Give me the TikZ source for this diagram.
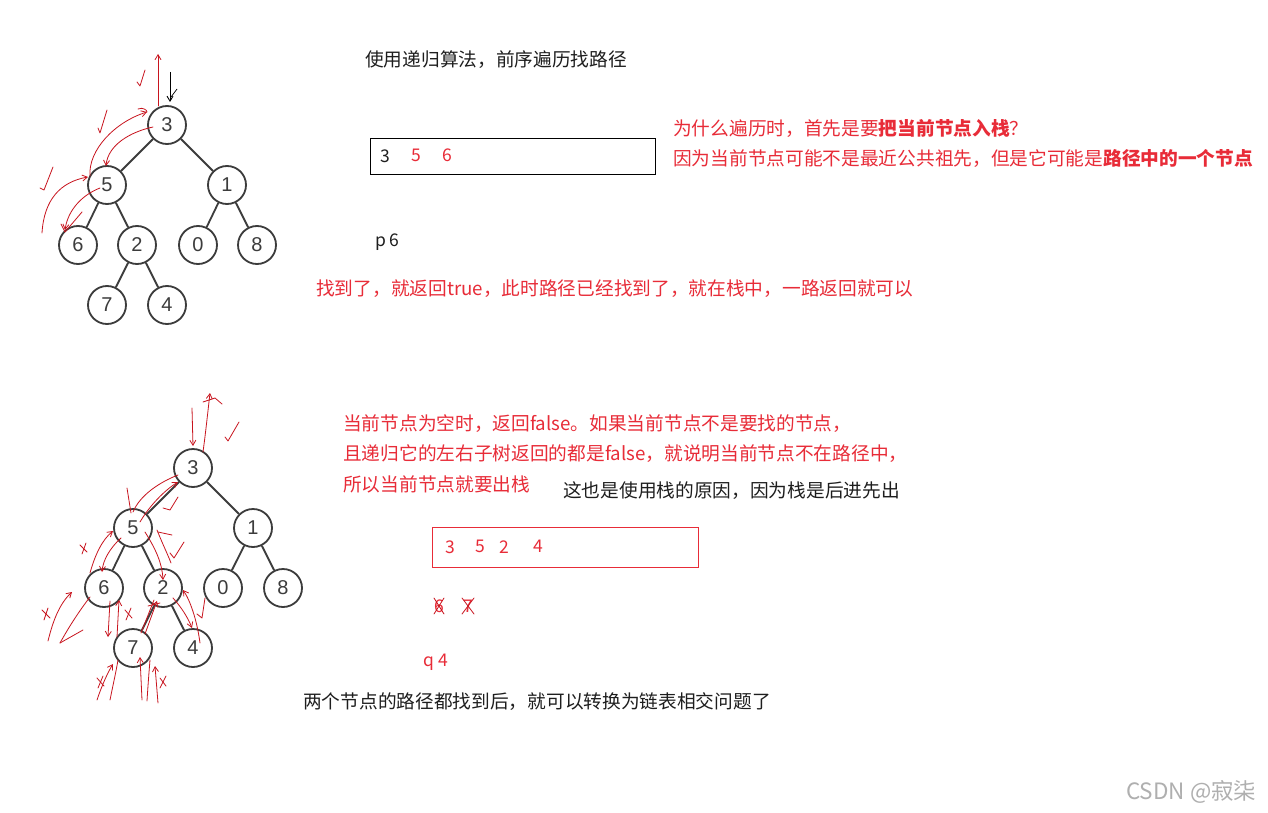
\documentclass[tikz,border=0pt]{standalone}
\usepackage{fontspec}
\setmainfont{Noto Sans CJK SC}
\newfontfamily\treefont{Liberation Sans}
\usetikzlibrary{arrows.meta}
\definecolor{redtxt}{RGB}{232,44,56}
\definecolor{darktxt}{RGB}{30,30,30}
\definecolor{treegray}{RGB}{60,60,60}
\definecolor{scribred}{RGB}{200,20,30}
\tikzset{
  tnode/.style={circle, draw=treegray, line width=1.8pt, minimum size=38pt, inner sep=0pt, font=\treefont\fontsize{20}{20}\selectfont, text=treegray, fill=white},
  tedge/.style={treegray, line width=1.8pt},
  scrib/.style={scribred, line width=0.8pt, line cap=round, line join=round},
  barb/.style={-{Straight Barb[length=5pt,width=6pt]}},
  cjk/.style={inner sep=0pt, anchor=west, font=\fontsize{18.7}{21}\selectfont},
  redline/.style={cjk, text=redtxt},
  blackline/.style={cjk, text=darktxt},
  digit/.style={inner sep=0pt, font=\fontsize{17.5}{17.5}\selectfont},
}
\begin{document}
\begin{tikzpicture}[x=1pt,y=-1pt]
\fill[white] (0,0) rectangle (1268,813);
\useasboundingbox (0,0) rectangle (1268,813);

% ---------- top tree ----------
\node[tnode] (a3) at (167,125) {3};
\node[tnode] (a5) at (107,185) {5};
\node[tnode] (a1) at (227,185) {1};
\node[tnode] (a6) at (78,245) {6};
\node[tnode] (a2) at (137,245) {2};
\node[tnode] (a0) at (198,245) {0};
\node[tnode] (a8) at (257,245) {8};
\node[tnode] (a7) at (107,305) {7};
\node[tnode] (a4) at (167,305) {4};
\draw[tedge] (a3) -- (a5); \draw[tedge] (a3) -- (a1);
\draw[tedge] (a5) -- (a6); \draw[tedge] (a5) -- (a2);
\draw[tedge] (a1) -- (a0); \draw[tedge] (a1) -- (a8);
\draw[tedge] (a2) -- (a7); \draw[tedge] (a2) -- (a4);

% top scribbles
\draw[black, line width=0.9pt, barb] (170,72) -- (170,102);
\draw[black, line width=0.7pt] (171,97) -- (177,89);
\draw[scrib, barb] (158,106) -- (158,54);
\draw[scrib] (137,82) -- (140,86) -- (145,70);
\draw[scrib, barb] (153,127) .. controls (130,132) and (108,145) .. (106,166);
\draw[scrib, barb] (90,176) .. controls (88,150) and (115,122) .. (147,112);
\draw[scrib] (138,109) .. controls (143,107) and (147,110) .. (147,112);
\draw[scrib] (98,128) -- (100,133) -- (107,110);
\draw[scrib, barb] (100,188) .. controls (82,195) and (68,210) .. (65,230);
\draw[scrib] (61,224) -- (65,232) -- (82,212);
\draw[scrib, barb] (42,233) .. controls (44,200) and (60,182) .. (88,177);
\draw[scrib] (40,188) -- (44,190) -- (53,167);

% ---------- bottom tree ----------
\node[tnode] (b3) at (193,468) {3};
\node[tnode] (b5) at (133,528) {5};
\node[tnode] (b1) at (253,528) {1};
\node[tnode] (b6) at (104,588) {6};
\node[tnode] (b2) at (163,588) {2};
\node[tnode] (b0) at (223,588) {0};
\node[tnode] (b8) at (283,588) {8};
\node[tnode] (b7) at (133,648) {7};
\node[tnode] (b4) at (193,648) {4};
\draw[tedge] (b3) -- (b5); \draw[tedge] (b3) -- (b1);
\draw[tedge] (b5) -- (b6); \draw[tedge] (b5) -- (b2);
\draw[tedge] (b1) -- (b0); \draw[tedge] (b1) -- (b8);
\draw[tedge] (b2) -- (b7); \draw[tedge] (b2) -- (b4);

% bottom scribbles
\draw[scrib, barb] (192,408) -- (193,446);
\draw[scrib, barb] (203,452) .. controls (206,430) and (208,410) .. (210,393);
\draw[scrib] (203,402) -- (215,398) -- (222,404);
\draw[scrib] (225,437) -- (228,441) -- (239,422);
\draw[scrib] (178,475) .. controls (160,482) and (140,495) .. (133,512);
\draw[scrib, barb] (140,522) .. controls (150,505) and (165,490) .. (178,482);
\draw[scrib] (163,508) -- (170,510) -- (178,497);
\draw[scrib] (127,488) -- (131,513);
\draw[scrib, barb] (121,538) .. controls (110,548) and (103,560) .. (102,572);
\draw[scrib, barb] (90,573) .. controls (95,555) and (102,540) .. (113,531);
\draw[scrib] (80,545) -- (87,552); \draw[scrib] (86,543) -- (82,554);
\draw[scrib, barb] (145,532) .. controls (155,548) and (162,562) .. (163,580);
\draw[scrib] (157,530) .. controls (163,545) and (168,555) .. (171,563);
\draw[scrib] (158,532) -- (172,535);
\draw[scrib] (170,553) -- (174,558) -- (184,542);
\draw[scrib, barb] (110,601) -- (108,637);
\draw[scrib, barb] (117,637) -- (119,600);
\draw[scrib] (125,610) -- (132,618); \draw[scrib] (131,608) -- (126,620);
\draw[scrib, barb] (48,641) .. controls (52,625) and (58,605) .. (72,592);
\draw[scrib] (42,610) -- (50,618); \draw[scrib] (48,608) -- (44,620);
\draw[scrib] (60,643) .. controls (70,625) and (80,610) .. (90,597);
\draw[scrib] (60,643) -- (83,630);
\draw[scrib] (154,600) -- (141,633);
\draw[scrib, barb] (145,634) -- (157,601);
\draw[scrib] (148,606) -- (160,603);
\draw[scrib, barb] (173,598) .. controls (182,608) and (188,618) .. (192,628);
\draw[scrib, barb] (200,643) .. controls (197,620) and (190,600) .. (183,590);
\draw[scrib] (197,614) -- (202,618) -- (205,598);
\draw[scrib, barb] (97,700) .. controls (102,685) and (108,672) .. (113,664);
\draw[scrib] (110,700) .. controls (113,685) and (116,672) .. (118,660);
\draw[scrib] (97,678) -- (104,686); \draw[scrib] (103,676) -- (98,688);
\draw[scrib, barb] (142,700) -- (140,657);
\draw[scrib] (147,701) .. controls (148,685) and (149,672) .. (150,660);
\draw[scrib, barb] (158,703) -- (155,666);
\draw[scrib] (160,678) -- (166,686); \draw[scrib] (166,676) -- (160,688);

% ---------- top texts ----------
\node[blackline] (t1) at (365,60) {使用递归算法，前序遍历找路径};
\node[draw=black, line width=0.8pt, minimum width=285pt, minimum height=36pt, inner sep=0pt, anchor=north west] (box1) at (370,138) {};
\node[digit, text=darktxt] (s1) at (385,156) {3};
\node[digit, text=redtxt] (s2) at (416,155) {5};
\node[digit, text=redtxt] (s3) at (447,155) {6};
\node[digit, text=darktxt, anchor=west] (p6) at (375,242) {p 6};
\node[redline] (q1) at (673,128) {为什么遍历时，首先是要\textbf{把当前节点入栈}？};
\node[redline] (q2) at (673,158) {因为当前节点可能不是最近公共祖先，但是它可能是\textbf{路径中的一个节点}};
\node[redline] (f1) at (316,289) {找到了，就返回true，此时路径已经找到了，就在栈中，一路返回就可以};

% ---------- bottom texts ----------
\node[redline] (r1) at (343,424) {当前节点为空时，返回false。如果当前节点不是要找的节点，};
\node[redline] (r2) at (343,454) {且递归它的左右子树返回的都是false，就说明当前节点不在路径中，};
\node[redline] (r3) at (343,484) {所以当前节点就要出栈};
\node[blackline] (r4) at (563,491) {这也是使用栈的原因，因为栈是后进先出};
\node[draw=redtxt, line width=0.8pt, minimum width=266pt, minimum height=40pt, inner sep=0pt, anchor=north west] (box2) at (432,527) {};
\node[digit, text=redtxt] (u1) at (450,547) {3};
\node[digit, text=redtxt] (u2) at (480,546) {5};
\node[digit, text=redtxt] (u3) at (504,547) {2};
\node[digit, text=redtxt] (u4) at (538,546) {4};
\node[digit, text=redtxt] (x6) at (439,606) {6};
\node[digit, text=redtxt] (x7) at (468,606) {7};
\draw[scrib] (434,598) -- (444,614); \draw[scrib] (444,598) -- (434,614);
\draw[scrib] (462,598) -- (474,614); \draw[scrib] (474,598) -- (462,614);
\node[digit, text=redtxt, anchor=west] (q4) at (423,662) {q\hspace{4pt}4};
\node[blackline] (last) at (303,702) {两个节点的路径都找到后，就可以转换为链表相交问题了};

\node[inner sep=0pt, anchor=west, text={rgb,255:red,175;green,175;blue,175}, font=\fontsize{22.5}{22.5}\selectfont] (csdn) at (1126,792) {CSDN @寂柒};
\end{tikzpicture}
\end{document}
